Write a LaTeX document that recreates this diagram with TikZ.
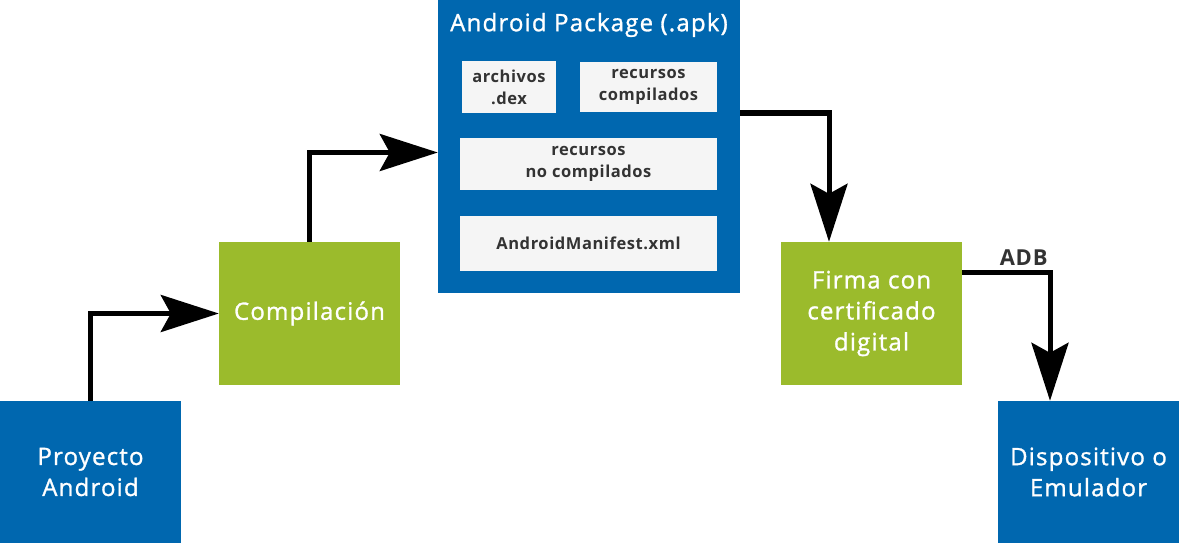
\documentclass[tikz,border=0pt]{standalone}
\usepackage{fontspec}
\setmainfont{Open Sans}
\newfontfamily\mediumfont{Open Sans}[FakeBold=1.2,LetterSpace=5]
\newfontfamily\partfont{Open Sans}[LetterSpace=3.5]
\usetikzlibrary{arrows.meta}
\definecolor{apkblue}{HTML}{0067AF}
\definecolor{stepgreen}{HTML}{9BBB2C}
\definecolor{partgray}{HTML}{F5F5F5}
\definecolor{labelgray}{HTML}{333333}
\tikzset{
  bluebox/.style={fill=apkblue,text=white,align=center,inner sep=0pt,
    font=\mediumfont\fontsize{24}{31}\selectfont},
  greenbox/.style={fill=stepgreen,text=white,align=center,inner sep=0pt,
    font=\mediumfont\fontsize{24}{31}\selectfont},
  partbox/.style={fill=partgray,text=labelgray,align=center,inner sep=0pt,
    font=\partfont\bfseries\fontsize{16.5}{22}\selectfont},
  flow/.style={line width=5pt,-{Stealth[length=58pt,width=37pt,inset=10pt]}}
}
\begin{document}
\begin{tikzpicture}[x=1pt,y=-1pt]
  \useasboundingbox (0,0) rectangle (1179,543);
  % main steps
  \node[bluebox,minimum width=181pt,minimum height=142pt] (proyecto) at (90.5,472) {Proyecto\\Android};
  \node[greenbox,minimum width=181pt,minimum height=143pt] (compil) at (309.5,313.5) {Compilación};
  \node[fill=apkblue,minimum width=302pt,minimum height=293pt,inner sep=0pt] (apk) at (589,146.5) {};
  \node[greenbox,minimum width=181pt,minimum height=143pt] (firma) at (871.5,313.5) {Firma con\\certificado\\digital};
  \node[bluebox,minimum width=181pt,minimum height=142pt] (disp) at (1088.5,472) {Dispositivo o\\Emulador};
  % contents of the package
  \node[text=white,font=\mediumfont\fontsize{24}{28}\selectfont] (apktitle) at (589,25) {Android Package (.apk)};
  \node[partbox,minimum width=94pt,minimum height=52pt] (dex) at (509,87) {archivos\\.dex};
  \node[partbox,minimum width=137pt,minimum height=50pt] (rescomp) at (648.5,87) {recursos\\compilados};
  \node[partbox,minimum width=257pt,minimum height=52pt] (resnocomp) at (588.5,164) {recursos\\no compilados};
  \node[partbox,minimum width=257pt,minimum height=55pt] (manifest) at (588.5,243.5) {AndroidManifest.xml};
  % connectors
  \draw[flow] (proyecto.north) |- (compil.west);
  \draw[flow] (compil.north) |- ([yshift=-6pt]apk.west);
  \draw[flow] ([yshift=33.5pt]apk.east) -| ([xshift=-42.5pt]firma.north);
  \draw[flow] ([yshift=41.5pt]firma.east) -| ([xshift=-38.5pt]disp.north)
    node[pos=0.35,above=1pt,text=labelgray,font=\partfont\bfseries\fontsize{22}{24}\selectfont] (adb) {ADB};
\end{tikzpicture}
\end{document}
